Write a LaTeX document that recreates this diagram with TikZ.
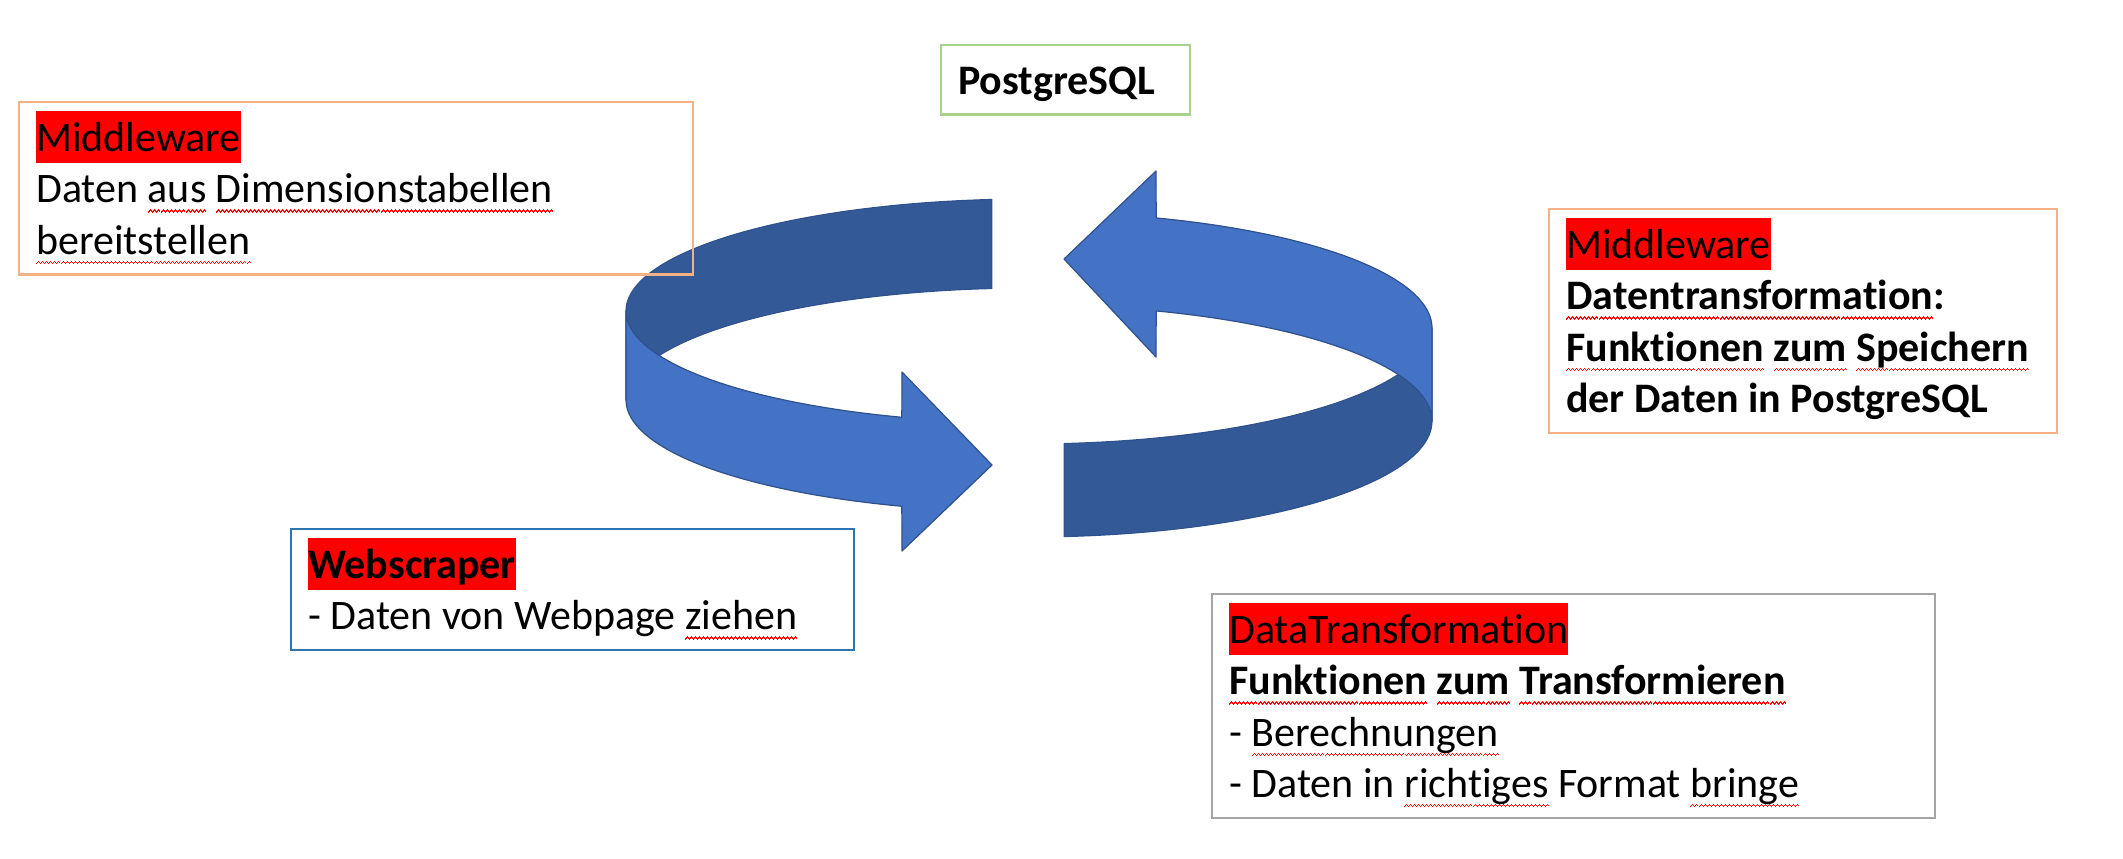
\documentclass[tikz,border=0pt]{standalone}
\usepackage{fontspec}
\setmainfont{Carlito}[Ligatures=NoCommon]
\definecolor{ringLight}{HTML}{4472C4}
\definecolor{ringDark}{HTML}{335A97}
\definecolor{ringEdge}{HTML}{2F528F}
\definecolor{noteOrange}{HTML}{F4B183}
\definecolor{noteGreen}{HTML}{A9D18E}
\definecolor{noteBlue}{HTML}{2E75B6}
\definecolor{noteGray}{HTML}{A5A5A5}
\definecolor{markRed}{HTML}{FF0000}
\newcommand\calstrut{\rule[-5.65pt]{0pt}{25.65pt}}
\newcommand\redmark[1]{{\setlength\fboxsep{0pt}\colorbox{markRed}{\calstrut#1}}}
\newcommand\waveunit{\rule[-5pt]{0.5pt}{0.6pt}\rule[-4.5pt]{0.5pt}{0.6pt}\rule[-4pt]{0.5pt}{0.6pt}\rule[-4.5pt]{0.5pt}{0.6pt}}
\newsavebox\squigbox
\newcommand\squig[1]{\leavevmode\sbox\squigbox{#1}\rlap{\textcolor{markRed}{\hbox to\wd\squigbox{\xleaders\hbox{\waveunit}\hfill}}}\usebox\squigbox}
\newcommand\notefont{\fontsize{21}{25.7}\selectfont}

\begin{document}
\begin{tikzpicture}[x=0.5pt, y=-0.5pt,
      band/.style={fill=#1, draw=ringEdge, line width=0.6pt, line join=round},
      note/.style={draw=#1, line width=1.2pt, anchor=north west, align=left, inner xsep=8.5pt, inner ysep=4.5pt,
        font=\notefont, execute at begin node={\spaceskip=0pt\xspaceskip=0pt\calstrut}, execute at end node=\calstrut}]
    \useasboundingbox (0,0) rectangle (2123,858);
    \draw[band=ringDark] plot[domain=95.3:180, samples=50] ({1029+403*cos(\x)}, {311-112*sin(\x)})
      -- plot[domain=180:95.3, samples=50] ({1029+403*cos(\x)}, {400-112*sin(\x)}) -- cycle;
    \draw[band=ringDark] plot[domain=275:360, samples=50] ({1029+403*cos(\x)}, {328-116*sin(\x)})
      -- plot[domain=360:275, samples=50] ({1029+403*cos(\x)}, {421-116*sin(\x)}) -- cycle;
    \draw[band=ringLight] plot[domain=180:251.6, samples=50] ({1029+403*cos(\x)}, {311-112*sin(\x)})
      -- (902,372) -- (992,465) -- (902,551)
      -- plot[domain=251.6:180, samples=50] ({1029+403*cos(\x)}, {400-112*sin(\x)}) -- cycle;
    \draw[band=ringLight] plot[domain=0:71.6, samples=50] ({1029+403*cos(\x)}, {328-116*sin(\x)})
      -- (1156,171) -- (1064,259) -- (1156,357)
      -- plot[domain=71.6:0, samples=50] ({1029+403*cos(\x)}, {421-116*sin(\x)}) -- cycle;
    \node[note=noteOrange, text width=320pt] (mwLeft) at (18,101) {\redmark{Middleware}\\
      Daten \squig{aus} \squig{Dimensionstabellen}\\ \squig{bereitstellen}};
    \node[note=noteGreen, text width=107.5pt] (pgBox) at (940,44) {\textbf{PostgreSQL}};
    \node[note=noteOrange, text width=237pt] (mwRight) at (1548,208) {\redmark{Middleware}\\
      \textbf{\squig{Datentransformation}:}\\ \textbf{\squig{Funktionen} \squig{zum} \squig{Speichern}}\\
      \textbf{der Daten in PostgreSQL}};
    \node[note=noteBlue, text width=264.5pt] (scraper) at (290,528) {\redmark{\textbf{Webscraper}}\\
      - Daten von Webpage \squig{ziehen}};
    \node[note=noteGray, text width=344.5pt] (transform) at (1211,593) {\redmark{DataTransformation}\\
      \textbf{\squig{Funktionen} \squig{zum} \squig{Transformieren}}\\ - \squig{Berechnungen}\\
      - Daten in \squig{richtiges} Format \squig{bringe}};
  \end{tikzpicture}
\end{document}
